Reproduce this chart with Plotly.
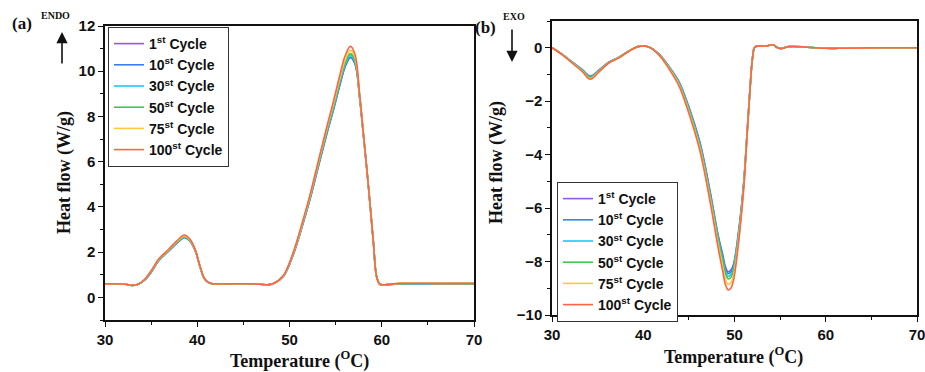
import plotly.graph_objects as go

W, H = 925, 372

# ---------------- Data: heating (panel a) ----------------
T_heat = [30, 32, 33, 33.6, 34.3, 35.1, 35.8, 36.9, 37.8, 38.6, 39.2, 39.8, 40.3, 40.8, 41.4,
          43, 46, 47.5, 48.2, 49.3, 50.4, 51.5, 52.2, 53.1, 54.0, 54.75, 55.5, 56.0, 56.6, 57.1,
          57.6, 58.0, 58.4, 58.8, 59.1, 59.45, 59.8, 60.3, 62, 66, 70]

heat_1 = [0.60, 0.59, 0.53, 0.58, 0.76, 1.16, 1.61, 2.04, 2.40, 2.64, 2.49, 2.04, 1.34, 0.80, 0.62,
          0.60, 0.60, 0.56, 0.60, 0.91, 1.88, 3.31, 4.30, 5.73, 7.16, 8.27, 9.45, 10.16, 10.60, 10.32,
          8.83, 7.21, 5.58, 3.80, 2.40, 0.90, 0.58, 0.56, 0.60, 0.60, 0.60]
heat_10 = [0.60, 0.59, 0.53, 0.58, 0.77, 1.17, 1.62, 2.05, 2.41, 2.65, 2.50, 2.04, 1.35, 0.81, 0.62,
           0.60, 0.60, 0.56, 0.60, 0.91, 1.89, 3.32, 4.31, 5.75, 7.18, 8.29, 9.47, 10.18, 10.62, 10.34,
           8.84, 7.22, 5.58, 3.80, 2.40, 0.90, 0.58, 0.56, 0.60, 0.60, 0.60]
heat_30 = [0.60, 0.59, 0.53, 0.58, 0.77, 1.18, 1.63, 2.06, 2.42, 2.66, 2.51, 2.05, 1.35, 0.81, 0.62,
           0.60, 0.60, 0.56, 0.60, 0.92, 1.91, 3.35, 4.35, 5.80, 7.24, 8.36, 9.55, 10.26, 10.70, 10.41,
           8.87, 7.24, 5.59, 3.80, 2.40, 0.90, 0.58, 0.56, 0.61, 0.61, 0.61]
heat_50 = [0.60, 0.59, 0.53, 0.58, 0.78, 1.20, 1.65, 2.08, 2.44, 2.69, 2.53, 2.06, 1.36, 0.81, 0.62,
           0.60, 0.60, 0.56, 0.60, 0.93, 1.93, 3.38, 4.39, 5.85, 7.30, 8.43, 9.62, 10.34, 10.78, 10.48,
           8.90, 7.26, 5.60, 3.80, 2.40, 0.90, 0.58, 0.56, 0.61, 0.61, 0.61]
heat_75 = [0.60, 0.59, 0.53, 0.58, 0.79, 1.22, 1.67, 2.10, 2.47, 2.72, 2.55, 2.08, 1.37, 0.82, 0.62,
           0.60, 0.60, 0.56, 0.60, 0.94, 1.95, 3.42, 4.44, 5.92, 7.38, 8.53, 9.74, 10.47, 10.92, 10.60,
           8.95, 7.28, 5.60, 3.80, 2.40, 0.90, 0.58, 0.56, 0.62, 0.62, 0.62]
heat_100 = [0.60, 0.59, 0.53, 0.58, 0.80, 1.24, 1.69, 2.13, 2.50, 2.76, 2.58, 2.10, 1.38, 0.82, 0.62,
            0.60, 0.60, 0.56, 0.60, 0.95, 1.98, 3.47, 4.50, 5.99, 7.47, 8.65, 9.90, 10.65, 11.10, 10.75,
            9.00, 7.30, 5.60, 3.80, 2.40, 0.90, 0.58, 0.56, 0.62, 0.62, 0.62]

# ---------------- Data: cooling (panel b) ----------------
T_cool = [30, 31.1, 32.2, 33.3, 34.2, 35.1, 36.2, 37.3, 38.4, 39.5, 40.6, 41.7, 42.8, 43.9, 44.8,
          46.2, 47.3, 48.2, 48.7, 49.0, 49.3, 49.6, 49.9, 50.4, 51.0, 51.35, 51.7, 52.0, 52.25, 53.5,
          54.25, 54.6, 55.0, 56, 58, 60, 62, 66, 70]

cool_1 = [0.00, -0.24, -0.53, -0.81, -1.06, -0.85, -0.54, -0.36, -0.13, 0.05, 0.03, -0.23, -0.69, -1.26, -2.02,
          -3.52, -5.32, -7.00, -7.72, -8.19, -8.38, -8.32, -8.09, -7.00, -5.08, -3.34, -1.54, -0.31, 0.03, 0.07,
          0.11, 0.02, -0.03, 0.04, 0.02, -0.02, -0.02, 0.00, 0.00]
cool_10 = [0.00, -0.24, -0.54, -0.82, -1.08, -0.86, -0.55, -0.36, -0.13, 0.05, 0.03, -0.23, -0.70, -1.28, -2.05,
           -3.56, -5.37, -7.05, -7.79, -8.26, -8.45, -8.40, -8.15, -7.04, -5.10, -3.35, -1.54, -0.31, 0.03, 0.07,
           0.11, 0.02, -0.03, 0.04, 0.02, -0.02, -0.02, 0.00, 0.00]
cool_30 = [0.00, -0.24, -0.54, -0.83, -1.10, -0.87, -0.55, -0.37, -0.13, 0.05, 0.03, -0.24, -0.71, -1.30, -2.08,
           -3.61, -5.43, -7.12, -7.88, -8.36, -8.55, -8.50, -8.23, -7.10, -5.14, -3.37, -1.55, -0.31, 0.03, 0.07,
           0.11, 0.02, -0.03, 0.04, 0.02, -0.02, -0.02, 0.00, 0.00]
cool_50 = [0.00, -0.25, -0.55, -0.85, -1.12, -0.88, -0.56, -0.37, -0.13, 0.05, 0.03, -0.24, -0.73, -1.33, -2.12,
           -3.67, -5.50, -7.20, -7.97, -8.45, -8.65, -8.60, -8.32, -7.17, -5.18, -3.39, -1.55, -0.31, 0.03, 0.07,
           0.11, 0.02, -0.03, 0.04, 0.02, -0.02, -0.02, 0.00, 0.00]
cool_75 = [0.00, -0.25, -0.56, -0.87, -1.15, -0.90, -0.57, -0.38, -0.14, 0.05, 0.03, -0.25, -0.75, -1.37, -2.18,
           -3.75, -5.60, -7.33, -8.16, -8.65, -8.85, -8.79, -8.50, -7.30, -5.25, -3.42, -1.56, -0.32, 0.03, 0.07,
           0.11, 0.02, -0.03, 0.04, 0.02, -0.02, -0.02, 0.00, 0.00]
cool_100 = [0.00, -0.26, -0.57, -0.89, -1.18, -0.92, -0.58, -0.39, -0.14, 0.05, 0.03, -0.26, -0.78, -1.42, -2.25,
            -3.85, -5.72, -7.48, -8.35, -8.85, -9.06, -9.00, -8.69, -7.44, -5.32, -3.45, -1.57, -0.32, 0.03, 0.07,
            0.11, 0.02, -0.03, 0.04, 0.02, -0.02, -0.02, 0.00, 0.00]

cycle_labels = ["1<sup>st</sup> Cycle", "10<sup>st</sup> Cycle", "30<sup>st</sup> Cycle",
                "50<sup>st</sup> Cycle", "75<sup>st</sup> Cycle", "100<sup>st</sup> Cycle"]
colors = ["#9257f2", "#3c7ff0", "#1ccaf2", "#3ccc44", "#ffc93a", "#ff6444"]

heat_series = [heat_1, heat_10, heat_30, heat_50, heat_75, heat_100]
cool_series = [cool_1, cool_10, cool_30, cool_50, cool_75, cool_100]

x_ticks = [30, 40, 50, 60, 70]
y_ticks_a = [0, 2, 4, 6, 8, 10, 12]
y_ticks_b = [0, -2, -4, -6, -8, -10]

fig = go.Figure()
for lab, col, ys in zip(cycle_labels, colors, heat_series):
    fig.add_trace(go.Scatter(x=T_heat, y=ys, mode="lines", name=lab,
                             line=dict(color=col, width=1.6, shape="spline", smoothing=1.0),
                             xaxis="x", yaxis="y", legend="legend"))
for lab, col, ys in zip(cycle_labels, colors, cool_series):
    fig.add_trace(go.Scatter(x=T_cool, y=ys, mode="lines", name=lab,
                             line=dict(color=col, width=1.6, shape="spline", smoothing=1.0),
                             xaxis="x2", yaxis="y2", legend="legend2"))

def px(x):
    return x / W

def py(y):
    return 1 - y / H

tickfont = dict(family="Liberation Sans, Arial", size=15, color="#111", weight="bold")
axis_common = dict(showline=True, linecolor="#111", linewidth=1.5, mirror=True,
                   ticks="outside", ticklen=5, tickwidth=1.3, tickcolor="#111",
                   showgrid=False, zeroline=False, tickfont=tickfont, automargin=False,
                   ticklabeloverflow="allow")

fig.update_layout(
    width=W, height=H, margin=dict(l=0, r=0, t=0, b=0, autoexpand=False),
    paper_bgcolor="white", plot_bgcolor="white",
    xaxis=dict(domain=[px(105), px(474)], range=[30, 70], tickvals=x_ticks, anchor="y",
               minor=dict(ticks="outside", ticklen=3, dtick=5, tick0=30, tickcolor="#111"),
               **axis_common),
    yaxis=dict(domain=[py(320), py(26)], range=[-1, 12], tickvals=y_ticks_a, anchor="x",
               minor=dict(ticks="outside", ticklen=3, dtick=1, tick0=0, tickcolor="#111"),
               **axis_common),
    xaxis2=dict(domain=[px(552), px(917)], range=[30, 70], tickvals=x_ticks, anchor="y2",
                minor=dict(ticks="outside", ticklen=3, dtick=5, tick0=30, tickcolor="#111"),
                **axis_common),
    yaxis2=dict(domain=[py(315), py(21)], range=[-10, 1], tickvals=y_ticks_b, anchor="x2",
                minor=dict(ticks="outside", ticklen=3, dtick=1, tick0=0, tickcolor="#111"),
                **axis_common),
    legend=dict(x=px(108), y=py(27), xanchor="left", yanchor="top",
                bordercolor="#333", borderwidth=1, bgcolor="white",
                font=dict(family="Liberation Sans, Arial", size=14, color="#111", weight="bold"),
                tracegroupgap=0),
    legend2=dict(x=px(557), y=py(182), xanchor="left", yanchor="top",
                 bordercolor="#333", borderwidth=1, bgcolor="white",
                 font=dict(family="Liberation Sans, Arial", size=14, color="#111", weight="bold"),
                 tracegroupgap=0),
    showlegend=True,
)

serif = "Liberation Serif, Times New Roman"

def label(x, y, text, size, angle=0):
    return dict(x=px(x), y=py(y), xref="paper", yref="paper", showarrow=False,
                xanchor="center", yanchor="middle", textangle=angle,
                text=text, font=dict(family=serif, size=size, color="#111"))

ann = [
    label(299, 360, "<b>Temperature (<sup>O</sup>C)</b>", 18),
    label(733, 356, "<b>Temperature (<sup>O</sup>C)</b>", 18),
    label(64, 173, "<b>Heat flow (W/g)</b>", 18, -90),
    label(496, 162, "<b>Heat flow (W/g)</b>", 18, -90),
    label(22, 24, "<b>(a)</b>", 17),
    label(55, 16, "<b>ENDO</b>", 10),
    label(486, 27, "<b>(b)</b>", 17),
    label(514, 17, "<b>EXO</b>", 10),
]
# arrows
ann.append(dict(x=px(62), y=py(32), xref="paper", yref="paper", ax=0, ay=33, text="",
                showarrow=True, arrowhead=2, arrowsize=1.4, arrowwidth=1.6, arrowcolor="#111"))
ann.append(dict(x=px(512), y=py(62), xref="paper", yref="paper", ax=0, ay=-34, text="",
                showarrow=True, arrowhead=2, arrowsize=1.4, arrowwidth=1.6, arrowcolor="#111"))
fig.update_layout(annotations=ann)

fig.write_html("out.html", config={"displayModeBar": False},
               post_script="document.body.style.margin='0';document.body.style.overflow='hidden';")
